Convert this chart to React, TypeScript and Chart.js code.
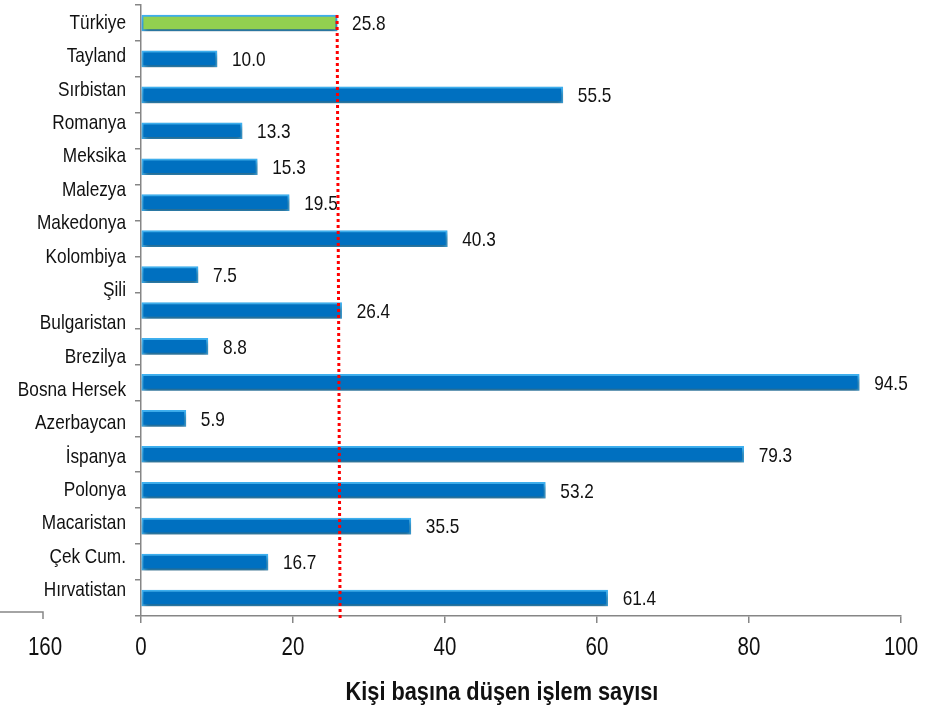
import { useEffect, useRef } from "react";
import { Chart, registerables } from "chart.js";

Chart.register(...registerables);

// Country names shown down the left side (18 names over 17 bar slots)
const countries = [
  "Türkiye", "Tayland", "Sırbistan", "Romanya", "Meksika", "Malezya",
  "Makedonya", "Kolombiya", "Şili", "Bulgaristan", "Brezilya", "Bosna Hersek",
  "Azerbaycan", "İspanya", "Polonya", "Macaristan", "Çek Cum.", "Hırvatistan",
];

// Transactions per person, one per bar slot, top to bottom
const values = [
  25.8, 10.0, 55.5, 13.3, 15.3, 19.5, 40.3, 7.5, 26.4,
  8.8, 94.5, 5.9, 79.3, 53.2, 35.5, 16.7, 61.4,
];

// Dotted reference line: value at the top end, value at the bottom end
const referenceLine = [25.8, 26.2];

const xTicks = [0, 20, 40, 60, 80, 100];
const strayAxisTick = "160";
const axisTitle = "Kişi başına düşen işlem sayısı";

const FONT = "'Liberation Sans', Arial, sans-serif";
const NARROW = 0.82; // horizontal squeeze to get a narrow sans look
const AXIS_GREY = "#868686";
const TEXT = "#111111";
const slots = values.map((_, i) => `#${i + 1}`);
const barColors = values.map((_, i) => (i === 0 ? "#92D050" : "#0070C0"));

function narrowText(
  ctx: CanvasRenderingContext2D,
  text: string,
  x: number,
  y: number,
  align: CanvasTextAlign,
  font: string
) {
  ctx.save();
  ctx.font = font;
  ctx.textAlign = align;
  ctx.textBaseline = "middle";
  ctx.fillStyle = TEXT;
  ctx.translate(x, y);
  ctx.scale(NARROW, 1);
  ctx.fillText(text, 0, 0);
  ctx.restore();
}

const barShadow = {
  id: "barShadow",
  beforeDatasetsDraw(chart: any) {
    const ctx = chart.ctx;
    ctx.save();
    ctx.shadowColor = "rgba(0,0,0,0.45)";
    ctx.shadowBlur = 5;
    ctx.shadowOffsetX = 1;
    ctx.shadowOffsetY = 3;
  },
  afterDatasetsDraw(chart: any) {
    chart.ctx.restore();
  },
};

const overlay = {
  id: "overlay",
  afterDraw(chart: any) {
    const ctx = chart.ctx;
    const x = chart.scales.x;
    const { left, right, top, bottom } = chart.chartArea;
    const band = (bottom - top) / values.length;

    // Country names, evenly spread along the category axis
    const first = top + 0.51 * band;
    const last = bottom - 0.72 * band;
    countries.forEach((name, i) => {
      const cy = first + (i * (last - first)) / (countries.length - 1);
      narrowText(ctx, name, left - 15, cy, "right", `21px ${FONT}`);
    });

    // Value labels at the end of each bar
    const meta = chart.getDatasetMeta(0);
    meta.data.forEach((bar: any, i: number) => {
      narrowText(ctx, values[i].toFixed(1), bar.x + 15, bar.y + 1.5, "left", `21px ${FONT}`);
    });

    // Red dotted reference line
    ctx.save();
    ctx.strokeStyle = "#FF0000";
    ctx.lineWidth = 3;
    ctx.setLineDash([3, 3]);
    ctx.beginPath();
    ctx.moveTo(x.getPixelForValue(referenceLine[0]), top + 10);
    ctx.lineTo(x.getPixelForValue(referenceLine[1]), bottom + 3);
    ctx.stroke();
    ctx.setLineDash([]);

    // Leftover piece of a second horizontal axis at the far left
    const stubEnd = left - 98;
    ctx.strokeStyle = AXIS_GREY;
    ctx.lineWidth = 1.5;
    ctx.beginPath();
    ctx.moveTo(0, bottom - 4);
    ctx.lineTo(stubEnd, bottom - 4);
    ctx.lineTo(stubEnd, bottom + 3);
    ctx.stroke();
    ctx.restore();

    // Tick labels of the value axis
    const tickY = bottom + 32;
    narrowText(ctx, strayAxisTick, stubEnd + 2, tickY, "center", `25px ${FONT}`);
    xTicks.forEach((v) => {
      narrowText(ctx, String(v), x.getPixelForValue(v), tickY, "center", `25px ${FONT}`);
    });

    // Axis title
    narrowText(ctx, axisTitle, (left + right) / 2 - 19, bottom + 77, "center", `bold 26.5px ${FONT}`);
  },
};

export default function App() {
  const ref = useRef<HTMLCanvasElement>(null);

  useEffect(() => {
    if (!ref.current) return;
    const chart = new Chart(ref.current, {
      type: "bar",
      data: {
        labels: slots,
        datasets: [
          {
            data: values,
            backgroundColor: barColors,
            borderColor: "#3FB2F2",
            borderWidth: 2,
            borderSkipped: false,
            barThickness: 16,
          },
        ],
      },
      options: {
        indexAxis: "y",
        responsive: false,
        animation: false,
        layout: { padding: { top: 5, right: 33, left: 0, bottom: 0 } },
        plugins: {
          legend: { display: false },
          tooltip: { enabled: false },
        },
        scales: {
          x: {
            type: "linear",
            min: xTicks[0],
            max: xTicks[xTicks.length - 1],
            afterBuildTicks: (s: any) => {
              s.ticks = xTicks.map((v) => ({ value: v }));
            },
            ticks: { display: false },
            grid: {
              drawOnChartArea: false,
              tickLength: 7,
              color: AXIS_GREY,
              lineWidth: 1.5,
            },
            border: { color: AXIS_GREY, width: 1.5 },
            afterFit: (s: any) => {
              s.height = 92;
            },
          },
          y: {
            type: "category",
            ticks: { display: false },
            grid: {
              drawOnChartArea: false,
              tickLength: 6,
              offset: true,
              color: AXIS_GREY,
              lineWidth: 1.5,
            },
            border: { color: AXIS_GREY, width: 1.5 },
            afterFit: (s: any) => {
              s.width = 141;
            },
          },
        },
      },
      plugins: [barShadow, overlay],
    } as any);
    return () => chart.destroy();
  }, []);

  return (
    <div style={{ position: "fixed", left: 0, top: 0, width: 934, height: 708, background: "#fff" }}>
      <canvas ref={ref} width={934} height={708} style={{ display: "block" }} />
    </div>
  );
}
